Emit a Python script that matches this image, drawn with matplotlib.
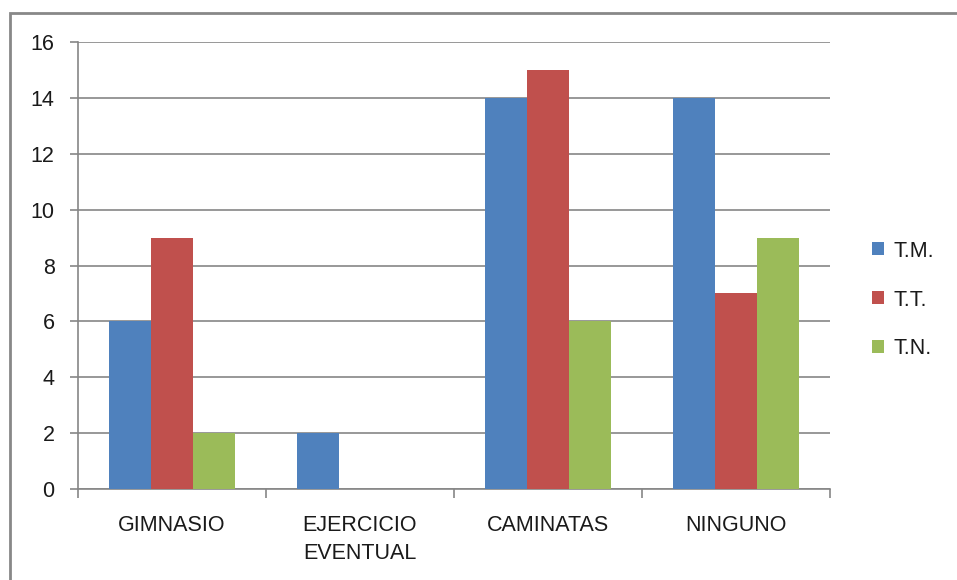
import numpy as np
import matplotlib
matplotlib.use("Agg")
import matplotlib.pyplot as plt
from matplotlib.patches import Rectangle

categories = ["GIMNASIO", "EJERCICIO\nEVENTUAL", "CAMINATAS", "NINGUNO"]
series_names = ["T.M.", "T.T.", "T.N."]
tm_values = [6, 2, 14, 14]
tt_values = [9, 0, 15, 7]
tn_values = [2, 0, 6, 9]
y_ticks = [0, 2, 4, 6, 8, 10, 12, 14, 16]

colors = ["#4F81BD", "#C0504D", "#9BBB59"]
grid_color = "#868686"
text_color = "#1a1a1a"
fsize = 15.5

plt.rcParams["font.family"] = ["Liberation Sans", "DejaVu Sans"]

fig = plt.figure(figsize=(9.57, 5.8), dpi=100)
ax = fig.add_axes([78 / 957, 1 - 489 / 580, (830 - 78) / 957, (489 - 42) / 580])

x = np.arange(len(categories))
width = 0.67 / 3
for i, (vals, name) in enumerate(zip([tm_values, tt_values, tn_values], series_names)):
    ax.bar(x + (i - 1) * width, vals, width, color=colors[i], label=name, zorder=3)

ax.set_xlim(-0.5, len(categories) - 0.5)
ax.set_ylim(0, 16)
ax.set_yticks(y_ticks)
ax.yaxis.grid(True, color=grid_color, linewidth=1.2, zorder=0)

# category boundaries as major ticks, labels on minor ticks
ax.set_xticks(np.arange(len(categories) + 1) - 0.5)
ax.set_xticklabels([])
ax.set_xticks(x, minor=True)
ax.set_xticklabels(categories, minor=True, fontsize=fsize, color=text_color, linespacing=1.4)
ax.tick_params(axis="x", which="minor", length=0, pad=19)
ax.tick_params(axis="x", which="major", length=6.5, width=1.2, color=grid_color)
ax.tick_params(axis="y", length=5.8, width=1.2, color=grid_color, pad=11,
               labelsize=fsize, labelcolor=text_color)

for side in ["top", "right"]:
    ax.spines[side].set_visible(False)
for side in ["left", "bottom"]:
    ax.spines[side].set_color(grid_color)
    ax.spines[side].set_linewidth(1.2)

leg = fig.legend(loc="center left", bbox_to_anchor=(872 / 957, 1 - 300 / 580),
                 frameon=False, fontsize=fsize, handlelength=0.55, handleheight=0.55,
                 handletextpad=0.45, labelspacing=1.3, borderpad=0, borderaxespad=0)
for t in leg.get_texts():
    t.set_color(text_color)

# outer chart border
fig.patches.append(Rectangle((9.5 / 957, -0.05), 1.1, 1 - 12.5 / 580 + 0.05,
                             transform=fig.transFigure, fill=False,
                             edgecolor="#888888", linewidth=2))

fig.savefig("out.png", dpi=100)
